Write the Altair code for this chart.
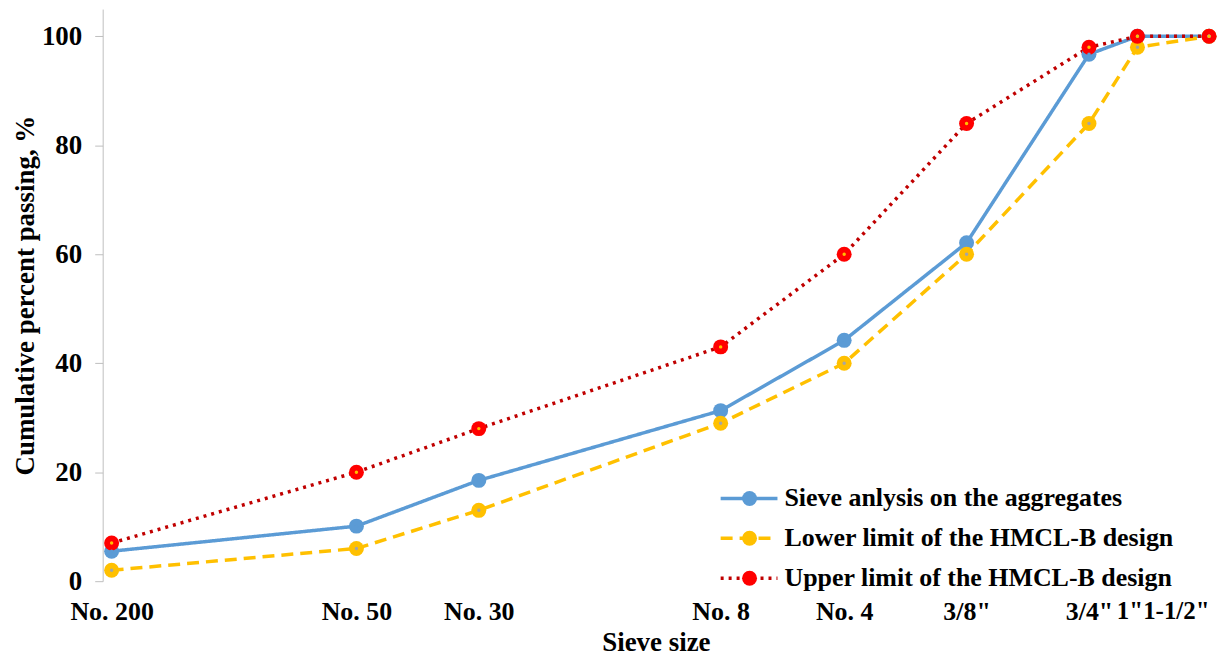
import altair as alt
import pandas as pd

# ---- data ----
sieve_labels = ["No. 200", "No. 50", "No. 30", "No. 8", "No. 4", '3/8"', '3/4"', '1"', '1-1/2"']
sieve_mm = [0.075, 0.3, 0.6, 2.36, 4.75, 9.5, 19.0, 25.0, 37.5]
sieve_pass = [5.5, 10.1, 18.5, 31.3, 44.2, 62.1, 96.7, 100, 100]
lower_pass = [2, 6, 13, 29, 40, 60, 84, 98, 100]
upper_pass = [7, 20, 28, 43, 60, 84, 98, 100, 100]

series_names = [
    "Sieve anlysis on the aggregates",
    "Lower limit of the HMCL-B design",
    "Upper limit of the HMCL-B design",
]
line_colors = ["#5B9BD5", "#FFC000", "#C00000"]
marker_colors = ["#5B9BD5", "#FFC000", "#FF0000"]
center_colors = ["#5B9BD5", "#A5A5A5", "#FFC000"]
dashes = [[1, 0], [12, 7], [3, 5]]

rows = []
for name, vals in zip(series_names, [sieve_pass, lower_pass, upper_pass]):
    for i, (mm, v) in enumerate(zip(sieve_mm, vals)):
        rows.append({"series": name, "size": mm, "pct": v, "idx": i})
df = pd.DataFrame(rows)

label_expr = " : ".join(
    f"abs(datum.value - {mm}) < 1e-6 ? '{lab}'" for mm, lab in zip(sieve_mm, sieve_labels)
) + " : ''"

FONT = "Liberation Serif"
AX_FS = 27
LEG_FS = 26
LEG_X = 618
LEG_Y = 478

x_enc = alt.X(
    "size:Q",
    scale=alt.Scale(type="log", domain=[0.0713, 37.5], nice=False),
    axis=alt.Axis(
        values=sieve_mm,
        labelExpr=label_expr,
        title="Sieve size",
        domain=False,
        ticks=False,
        grid=False,
        labelOverlap=False,
        labelFlush=5,
        labelPadding=17,
        labelFontSize={"condition": {"test": "datum.value > 24", "value": 25}, "value": 26},
        labelOffset={"condition": {"test": "abs(datum.value - 25) < 1e-6", "value": -8}, "value": 0},
        titlePadding=6,
    ),
)
y_enc = alt.Y(
    "pct:Q",
    scale=alt.Scale(domain=[0, 105], nice=False),
    axis=alt.Axis(
        values=[0, 20, 40, 60, 80, 100],
        title="Cumulative percent passing, %",
        grid=False,
        domainColor="#BFBFBF",
        tickColor="#BFBFBF",
        tickSize=8,
        labelPadding=13,
        titlePadding=2,
    ),
)


def legend_props(**extra):
    props = dict(
        orient="none", legendX=LEG_X, legendY=LEG_Y, title=None,
        clipHeight=LEG_FS, rowPadding=14, padding=0,
        labelFont=FONT, labelFontSize=LEG_FS, labelFontWeight="bold",
        labelColor="black", labelLimit=600, labelOffset=5,
    )
    props.update(extra)
    return alt.Legend(**props)


base = alt.Chart(df)

lines = base.mark_line(strokeWidth=3.5).encode(
    x=x_enc,
    y=y_enc,
    stroke=alt.Stroke(
        "series:N",
        scale=alt.Scale(domain=series_names, range=line_colors),
        legend=legend_props(symbolType="stroke", symbolSize=3249, symbolStrokeWidth=3.5),
    ),
    strokeDash=alt.StrokeDash(
        "series:N",
        scale=alt.Scale(domain=series_names, range=dashes),
        legend=legend_props(symbolType="stroke", symbolSize=3249, symbolStrokeWidth=3.5),
    ),
    order="idx:Q",
)

# fill domain left implicit (alphabetical) so this marker legend stays separate
sorted_names = sorted(series_names)
fill_range = [marker_colors[series_names.index(n)] for n in sorted_names]

points = base.mark_point(filled=True, size=225, opacity=1).encode(
    x=x_enc,
    y=y_enc,
    fill=alt.Fill(
        "series:N",
        scale=alt.Scale(range=fill_range),
        legend=legend_props(
            values=series_names, symbolType="circle", symbolSize=225,
            symbolStrokeWidth=0, symbolOffset=18, labelExpr="''",
        ),
    ),
)

center_range = [center_colors[series_names.index(n)] for n in sorted_names]
centers = base.mark_point(filled=True, size=12, opacity=1).encode(
    x=x_enc,
    y=y_enc,
    color=alt.Color("series:N", scale=alt.Scale(range=center_range), legend=None),
)

chart = (
    alt.layer(lines, points, centers)
    .properties(
        width=1110,
        height=574,
        padding={"left": 95, "top": 0, "right": 12, "bottom": 74},
        autosize=alt.AutoSizeParams(type="none"),
    )
    .configure_view(stroke=None)
    .configure_axis(
        labelFont=FONT, labelFontSize=AX_FS, labelFontWeight="bold", labelColor="black",
        titleFont=FONT, titleFontSize=AX_FS, titleFontWeight="bold", titleColor="black",
    )
)

chart.save("out.html", embed_options={"renderer": "svg", "actions": False})
